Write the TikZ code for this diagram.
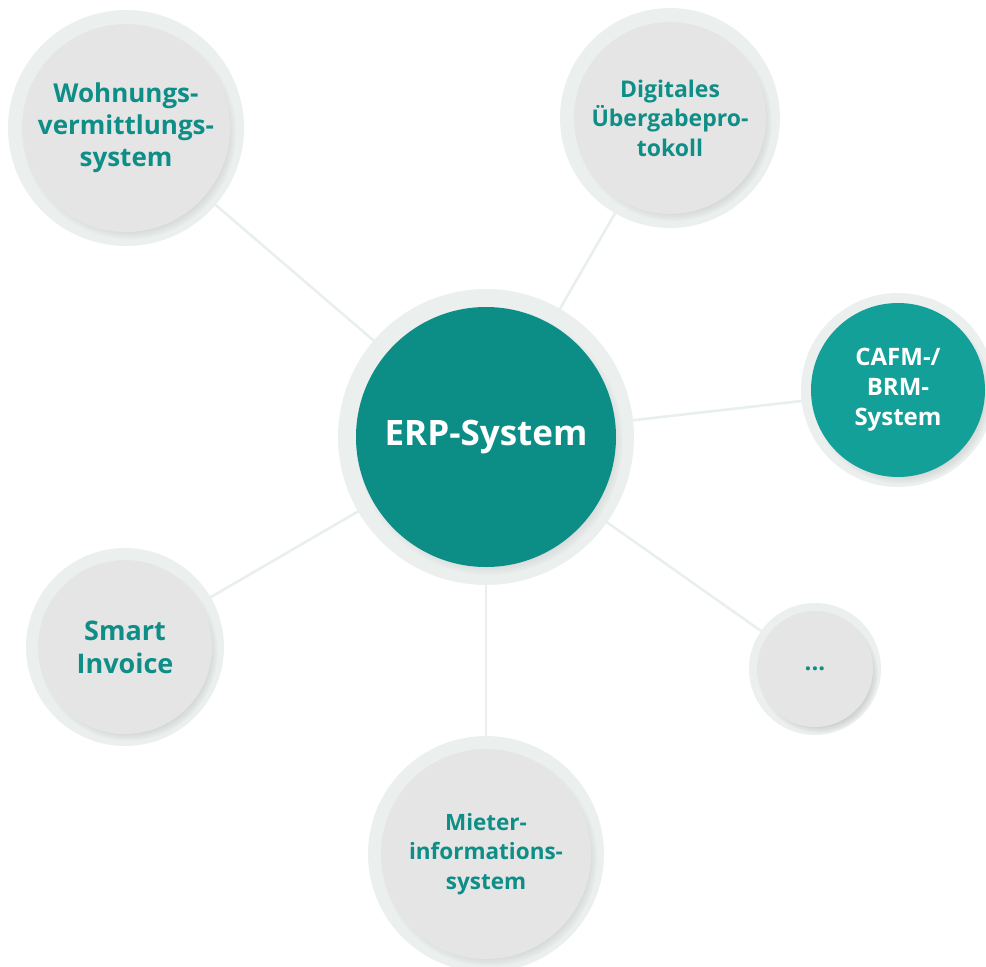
\documentclass[tikz,border=0pt]{standalone}
\usepackage{fontspec}
\setmainfont{Open Sans}
\usetikzlibrary{shadows,backgrounds}
\definecolor{erpteal}{HTML}{0C8E87}
\definecolor{cafmteal}{HTML}{12A098}
\definecolor{labelteal}{HTML}{0E8E86}
\definecolor{discgray}{HTML}{E5E5E5}
\definecolor{ringgray}{HTML}{EBF0EF}
\definecolor{linkgray}{HTML}{E8EFEE}

\begin{document}
\begin{tikzpicture}[x=1pt,y=-1pt,
  ring/.style={fill=ringgray},
  disc/.style={circle,inner sep=0pt,align=center,fill=discgray,text=labelteal,
    circular drop shadow={shadow scale=1.03,shadow xshift=3pt,shadow yshift=-4pt,opacity=0.35}},
  link/.style={draw=linkgray,line width=2.6pt}]
\useasboundingbox (0,0) rectangle (986,967);
% The rings
\fill[ring] (486,437) circle (148);
\fill[ring] (126,128) circle (118);
\fill[ring] (670,118) circle (110);
\fill[ring] (898,390) circle (97);
\fill[ring] (125,647) circle (99);
\fill[ring] (815,669) circle (66);
\fill[ring] (486,854) circle (118);

% The discs
\node[disc,fill=erpteal,text=white,minimum size=260pt,
  font=\fontsize{35}{42}\selectfont\bfseries] (erp) at (486,437) {\raisebox{-4pt}{ERP-System}};
\node[disc,minimum size=208pt,font=\fontsize{26}{32}\selectfont\bfseries]
  (wohn) at (126,128) {Wohnungs-\\vermittlungs-\\system};
\node[disc,minimum size=192pt,font=\fontsize{23}{29.5}\selectfont\bfseries]
  (proto) at (670,118) {Digitales\\Übergabepro-\\tokoll};
\node[disc,fill=cafmteal,text=white,minimum size=174pt,
  font=\fontsize{24}{30}\selectfont\bfseries] (cafm) at (898,390) {CAFM-/\\BRM-\\System};
\node[disc,minimum size=174pt,font=\fontsize{27}{33}\selectfont\bfseries]
  (invoice) at (125,647) {Smart\\Invoice};
\node[disc,minimum size=116pt,font=\fontsize{24}{30}\selectfont\bfseries]
  (more) at (815,669) {...};
\node[disc,minimum size=210pt,font=\fontsize{22.5}{29.5}\selectfont\bfseries]
  (mieter) at (486,854) {Mieter-\\informations-\\system};

% The links
\begin{scope}[on background layer]
\draw[link] (erp) -- (wohn);
\draw[link] (erp) -- (proto);
\draw[link] (erp) -- (cafm);
\draw[link] (erp) -- (invoice);
\draw[link] (erp) -- (more);
\draw[link] (erp) -- (mieter);
\end{scope}

\end{tikzpicture}
\end{document}
